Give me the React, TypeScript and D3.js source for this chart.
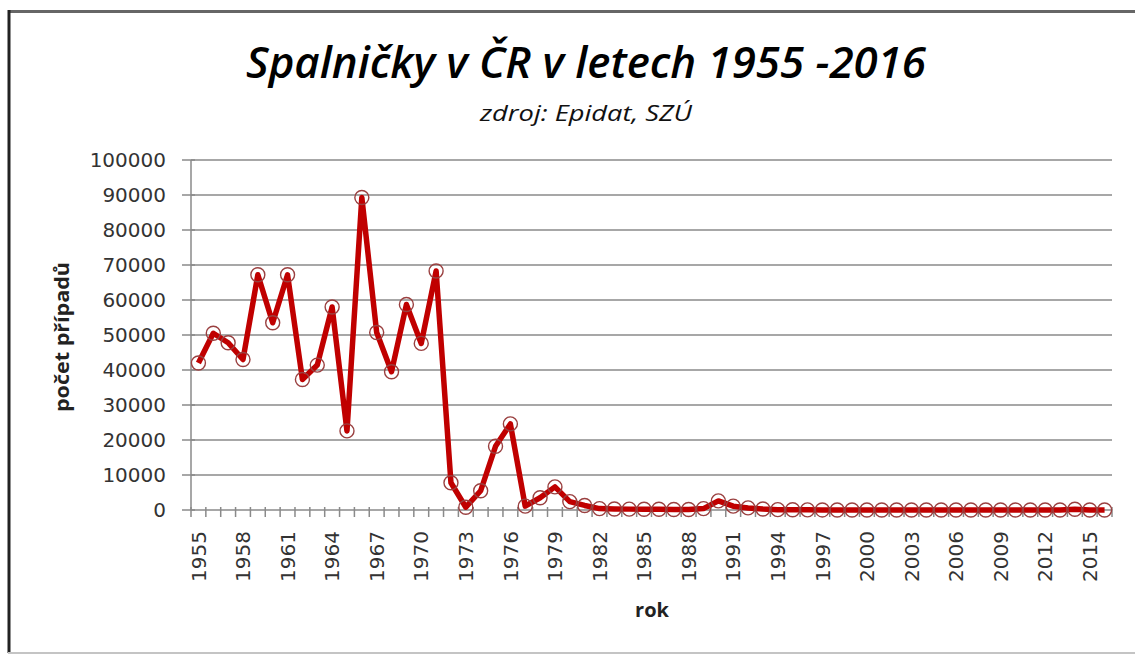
import React from 'react';
import * as d3 from 'd3';

// roky 1955 - 2016
const years: number[] = d3.range(1955, 2017);

// počet případů
const cases: number[] = [
  42000, 50500, 47800, 43000, 67200, 53500, 67200, 37300, 41400, 58000,
  22600, 89300, 50700, 39500, 58700, 47600, 68300, 7800, 800, 5500,
  18200, 24600, 1100, 3500, 6600, 2400, 1300, 400, 300, 250,
  200, 200, 150, 150, 400, 2600, 1100, 600, 300, 100,
  60, 40, 20, 10, 5, 3, 2, 1, 1, 1,
  1, 2, 1, 1, 1, 1, 2, 2, 10, 215,
  7, 7,
];

const yTicks: number[] = d3.range(0, 100001, 10000);
const xLabelYears: number[] = years.filter((y) => (y - 1955) % 3 === 0);

const title = 'Spalničky v ČR v letech 1955 -2016';
const subtitle = 'zdroj: Epidat, SZÚ';
const yTitle = 'počet případů';
const xTitle = 'rok';

const W = 1135;
const H = 655;
const margin = { left: 191, right: 1112, top: 160, bottom: 510 };

const App = () => {
  const x = d3
    .scaleBand<number>()
    .domain(years)
    .range([margin.left, margin.right])
    .padding(0);
  const y = d3.scaleLinear().domain([0, 100000]).range([margin.bottom, margin.top]);
  const cx = (yr: number) => (x(yr) as number) + x.bandwidth() / 2;

  const line = d3
    .line<number>()
    .x((_, i) => cx(years[i]))
    .y((d) => y(d));

  const tickFont = '"DejaVu Sans", Verdana, sans-serif';
  const titleFont = '"Open Sans", "Noto Sans", sans-serif';

  // hranice kategorií pro značky osy x
  const bounds = years.map((yr) => x(yr) as number).concat([margin.right]);

  return (
    <svg
      width={W}
      height={H}
      style={{ position: 'absolute', top: 0, left: 0, background: '#fff' }}
    >
      {/* rámeček */}
      <line x1={8} x2={W} y1={11.5} y2={11.5} stroke="#666" strokeWidth={3} />
      <line x1={9} x2={9} y1={10} y2={H - 2} stroke="#222" strokeWidth={3} />
      <line x1={8} x2={W} y1={653} y2={653} stroke="#c4c4c4" strokeWidth={2} />

      {/* nadpis */}
      <text
        x={586}
        y={78}
        textAnchor="middle"
        fontFamily={titleFont}
        fontStyle="italic"
        fontWeight={600}
        fontSize={43}
        textLength={680}
        lengthAdjust="spacingAndGlyphs"
        fill="#000"
      >
        {title}
      </text>
      <text
        x={586}
        y={121}
        textAnchor="middle"
        fontFamily={titleFont}
        fontStyle="italic"
        fontSize={22}
        textLength={212}
        lengthAdjust="spacingAndGlyphs"
        fill="#111"
      >
        {subtitle}
      </text>

      {/* mřížka */}
      {yTicks
        .filter((t) => t > 0)
        .map((t) => (
          <line
            key={'g' + t}
            x1={margin.left}
            x2={margin.right}
            y1={y(t)}
            y2={y(t)}
            stroke="#8a8a8a"
            strokeWidth={1.5}
          />
        ))}

      {/* osa y */}
      <line
        x1={margin.left}
        x2={margin.left}
        y1={margin.top}
        y2={margin.bottom}
        stroke="#8a8a8a"
        strokeWidth={1.5}
      />
      {yTicks.map((t) => (
        <g key={'y' + t}>
          <line
            x1={182}
            x2={margin.left + 4}
            y1={y(t)}
            y2={y(t)}
            stroke="#8a8a8a"
            strokeWidth={1.5}
          />
          <text
            x={166}
            y={y(t)}
            dy="0.36em"
            textAnchor="end"
            fontFamily={tickFont}
            fontSize={20}
            fill="#333"
          >
            {t}
          </text>
        </g>
      ))}

      {/* osa x */}
      <line
        x1={margin.left}
        x2={margin.right}
        y1={margin.bottom}
        y2={margin.bottom}
        stroke="#8a8a8a"
        strokeWidth={1.5}
      />
      {bounds.map((b, i) => (
        <line
          key={'xt' + i}
          x1={b}
          x2={b}
          y1={margin.bottom - 3}
          y2={margin.bottom + 7}
          stroke="#8a8a8a"
          strokeWidth={1.5}
        />
      ))}
      {xLabelYears.map((yr) => (
        <text
          key={'xl' + yr}
          transform={`translate(${cx(yr)},${531}) rotate(-90)`}
          dy="0.36em"
          textAnchor="end"
          fontFamily={tickFont}
          fontSize={20}
          fill="#333"
        >
          {yr}
        </text>
      ))}

      {/* popisky os */}
      <text
        transform={`translate(62,337) rotate(-90)`}
        dy="0.36em"
        textAnchor="middle"
        fontFamily={titleFont}
        fontWeight="bold"
        fontSize={20}
        textLength={150}
        lengthAdjust="spacingAndGlyphs"
        fill="#222"
      >
        {yTitle}
      </text>
      <text
        x={652}
        y={617}
        textAnchor="middle"
        fontFamily={titleFont}
        fontWeight="bold"
        fontSize={20}
        fill="#222"
      >
        {xTitle}
      </text>

      {/* data */}
      <path
        d={line(cases) || ''}
        fill="none"
        stroke="#c00000"
        strokeWidth={5.5}
        strokeLinejoin="round"
      />
      {cases.map((v, i) => (
        <circle
          key={'m' + i}
          cx={cx(years[i])}
          cy={y(v)}
          r={7}
          fill="none"
          stroke="#9a4040"
          strokeWidth={1.4}
        />
      ))}
    </svg>
  );
};

export default App;
